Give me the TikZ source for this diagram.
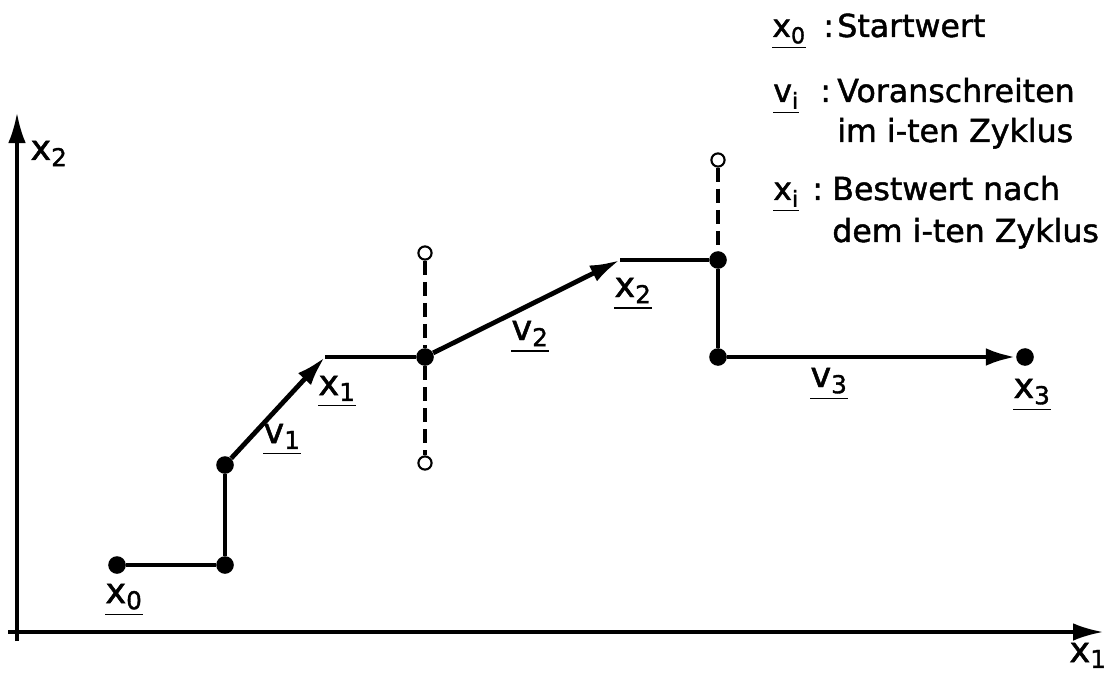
\documentclass[tikz,border=0pt]{standalone}
\usepackage{amsmath}
\usepackage{fontspec}
\setmainfont{DejaVu Sans}[BoldFont=DejaVu Sans,BoldFeatures={FakeBold=1.4}]
\usetikzlibrary{arrows.meta,positioning}
\newcommand{\vek}[2]{$\underline{\text{#1}_{\text{#2}}}$}
\newcommand{\achse}[2]{$\text{#1}_{\text{#2}}$}

\begin{document}
\begin{tikzpicture}[x=0.025cm,y=-0.025cm,>={Latex[length=7.5mm,width=4.4mm]},
dot/.style={circle,fill,inner sep=0pt,minimum size=4.4mm},
ring/.style={circle,draw,fill=white,line width=1.5pt,inner sep=0pt,minimum size=3.3mm},
weg/.style={line width=3.4pt},
probe/.style={line width=2.2pt,dash pattern=on 10pt off 5pt},
lab/.style={font=\fontsize{25}{30}\selectfont\bfseries,anchor=base,inner sep=0pt},
leg/.style={font=\fontsize{22.5}{28.5}\selectfont\bfseries,anchor=base west,inner sep=0pt}]
\useasboundingbox (0,0) rectangle (1115,675);
% axes
\coordinate (ybot) at (17,641);
\coordinate (ytop) at (17,113);
\coordinate (xlft) at (8,632);
\coordinate (xrgt) at (1103,632);
\draw[line width=2.3pt,->] (ybot) -- (ytop);
\draw[line width=2.3pt,->] (xlft) -- (xrgt);
\node[lab] (ax2) at (49,160) {\achse{x}{2}};
\node[lab] (ax1) at (1088,662) {\achse{x}{1}};
% points of the search
\node[dot] (p0) at (117,565) {};
\node[dot] (p1) at (225,565) {};
\node[dot] (p2) at (225,465) {};
\coordinate (c1) at (325,357);
\node[dot] (p3) at (425,357) {};
\node[ring] (r1) at (425,253) {};
\node[ring] (r2) at (425,463) {};
\coordinate (c2) at (620,260);
\node[dot] (p4) at (718,260) {};
\node[ring] (r3) at (718,160) {};
\node[dot] (p5) at (718,357) {};
\node[dot] (p6) at (1025,357) {};
\draw[weg] (p0) -- (p1) -- (p2);
\draw[weg,->] (p2) -- (c1);
\draw[weg] (c1) -- (p3);
\draw[weg,->] (p3) -- (c2);
\draw[weg] (c2) -- (p4) -- (p5);
\draw[weg,->] (p5) -- (p6);
\draw[probe] (r1) -- (p3) -- (r2);
\draw[probe] (r3) -- (p4);
% labels
\node[lab] (lx0) at (124,603) {\vek{x}{0}};
\node[lab] (lv1) at (282,443) {\vek{v}{1}};
\node[lab] (lx1) at (337,395) {\vek{x}{1}};
\node[lab] (lv2) at (530,340) {\vek{v}{2}};
\node[lab] (lx2) at (633,297) {\vek{x}{2}};
\node[lab] (lv3) at (829,387) {\vek{v}{3}};
\node[lab] (lx3) at (1032,398) {\vek{x}{3}};
% legend
\node[leg] (sx0) at (772,37) {\vek{x}{0}};
\node[leg] (kx0) at (823,37) {:};
\node[leg] (tx0) at (837,37) {Startwert};
\node[leg] (svi) at (773,102) {\vek{v}{i}};
\node[leg] (kvi) at (820,102) {:};
\node[leg] (tvi) at (837,102) {Voranschreiten};
\node[leg] (tvi2) at (837,142) {im i-ten Zyklus};
\node[leg] (sxi) at (773,200) {\vek{x}{i}};
\node[leg] (kxi) at (812,200) {:};
\node[leg] (txi) at (832,200) {Bestwert nach};
\node[leg] (txi2) at (832,242) {dem i-ten Zyklus};
\end{tikzpicture}
\end{document}
